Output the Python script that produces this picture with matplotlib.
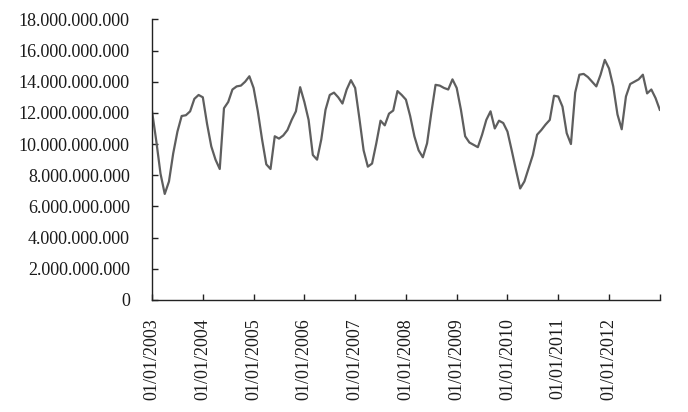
import numpy as np
import matplotlib.pyplot as plt
from matplotlib.ticker import FuncFormatter

# monthly values (billions), 01/2003 .. 01/2013
vals_2003 = [12.1, 10.2, 8.1, 6.8, 7.6, 9.4, 10.8, 11.8, 11.85, 12.1, 12.9, 13.15]
vals_2004 = [13.0, 11.3, 9.85, 9.0, 8.4, 12.3, 12.7, 13.5, 13.7, 13.75, 14.0, 14.35]
vals_2005 = [13.6, 12.1, 10.3, 8.7, 8.4, 10.5, 10.35, 10.55, 10.9, 11.55, 12.1, 13.65]
vals_2006 = [12.7, 11.55, 9.3, 9.0, 10.3, 12.2, 13.15, 13.3, 13.0, 12.6, 13.5, 14.1]
vals_2007 = [13.6, 11.65, 9.6, 8.55, 8.75, 10.05, 11.5, 11.2, 11.95, 12.15, 13.4, 13.15]
vals_2008 = [12.85, 11.8, 10.5, 9.6, 9.15, 10.05, 12.0, 13.8, 13.75, 13.6, 13.5, 14.15]
vals_2009 = [13.6, 12.2, 10.5, 10.1, 9.95, 9.8, 10.6, 11.55, 12.1, 11.0, 11.5, 11.35]
vals_2010 = [10.8, 9.6, 8.35, 7.15, 7.6, 8.45, 9.3, 10.6, 10.9, 11.25, 11.55, 13.1]
vals_2011 = [13.05, 12.4, 10.7, 10.0, 13.3, 14.45, 14.5, 14.3, 14.0, 13.7, 14.45, 15.4]
vals_2012 = [14.85, 13.7, 11.9, 10.95, 13.05, 13.85, 14.0, 14.15, 14.45, 13.25, 13.5, 12.95]
vals_2013 = [12.2]

years = list(range(2003, 2013))
tick_labels = ["01/01/%d" % y for y in years] + [""]

values = np.array(vals_2003 + vals_2004 + vals_2005 + vals_2006 + vals_2007 +
                  vals_2008 + vals_2009 + vals_2010 + vals_2011 + vals_2012 +
                  vals_2013) * 1e9
months = np.arange(len(values))

plt.rcParams['font.family'] = ['Liberation Serif', 'DejaVu Serif']

fig = plt.figure(figsize=(6.88, 4.12), dpi=100)
ax = fig.add_axes([0.221, 0.272, 0.738, 0.681])

ax.plot(months, values, color='#5e5e5e', lw=1.6, solid_joinstyle='round')

ax.set_xlim(0, 120)
ax.set_ylim(0, 18e9)
ax.set_xticks(np.arange(0, 121, 12))
ax.set_xticklabels(tick_labels, rotation=90, va='top')
ax.set_yticks(np.arange(0, 18e9 + 1, 2e9))

def dots(v, pos):
    return "{:,.0f}".format(v).replace(",", ".")

ax.yaxis.set_major_formatter(FuncFormatter(dots))

for s in ['top', 'right']:
    ax.spines[s].set_visible(False)
for s in ['left', 'bottom']:
    ax.spines[s].set_linewidth(1.0)
    ax.spines[s].set_color('#222222')

ax.tick_params(axis='both', direction='in', length=4, width=1.0,
               colors='#222222', labelsize=13, labelcolor='#1a1a1a')
ax.tick_params(axis='y', pad=16)
ax.tick_params(axis='x', pad=13)

fig.savefig('out.png', dpi=100)
